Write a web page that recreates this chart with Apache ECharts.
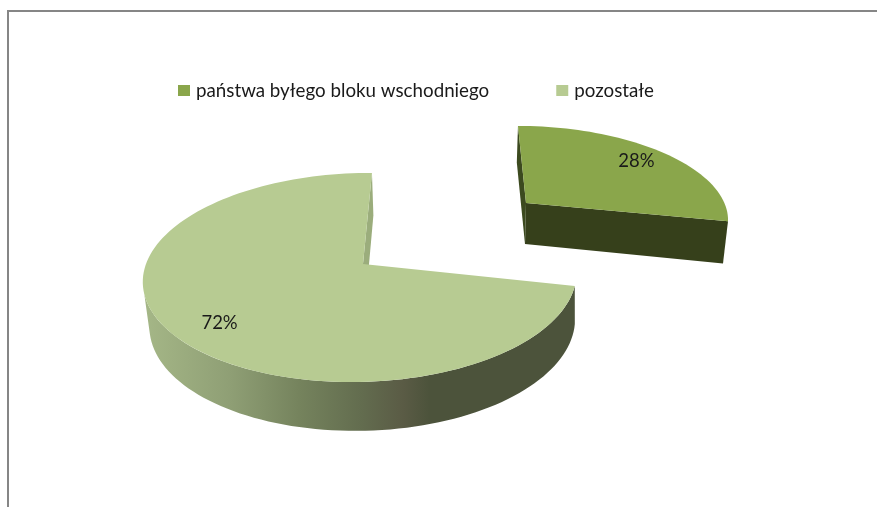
<!DOCTYPE html>
<html>
<head>
<meta charset="utf-8">
<style>
  html, body { margin: 0; padding: 0; background: #fff; }
  #chart { width: 877px; height: 507px; }
</style>
<script src="https://cdn.jsdelivr.net/npm/echarts@6/dist/echarts.min.js"></script>
</head>
<body>
<div id="chart"></div>
<script>
const categories = ["państwa byłego bloku wschodniego", "pozostałe"];
const shares = [28, 72];
const sliceColors = ["#8aa64b", "#b7cb92"];

var myChart = echarts.init(document.getElementById("chart"), null, { renderer: "canvas" });

// the pie is tilted, so each slice has a top and a bottom perspective mapping
const firstAngle = 2.8;
const geometry = [
  {
    top: { x: 526, y: 203, a: 197, b: 87, k: 0.129, skew: 18.7, shear: -3 },
    bottom: { x: 525, y: 244, a: 193, b: 92, k: 0.129, skew: 18.7, shear: -3 },
    labelR: 0.8,
    labelDy: -1,
  },
  {
    top: { x: 360, y: 264, a: 215, b: 102.8, k: 0.129, skew: -3, shear: -3, apexX: 363 },
    bottom: { x: 362.5, y: 309, a: 211, b: 106, k: 0.13, skew: -2, shear: -3, apexX: 365 },
    labelR: 0.76,
    labelDy: 7,
  },
];

function project(m, deg, r) {
  var t = (deg * Math.PI) / 180;
  var u = Math.sin(t) * r;
  var v = -Math.cos(t) * r;
  var w = 1 - m.k * v;
  return [m.x + (m.a * u + m.skew * v) / w, m.y + (m.b * v) / w + m.shear * u];
}

function apex(m) {
  return [m.apexX === undefined ? m.x : m.apexX, m.y];
}

function rim(m, from, to) {
  var pts = [];
  var n = Math.ceil(Math.abs(to - from) / 2);
  for (var i = 0; i <= n; i++) {
    pts.push(project(m, from + ((to - from) * i) / n, 1));
  }
  return pts;
}

const total = shares.reduce(function (s, v) { return s + v; }, 0);

const wallGradient = new echarts.graphic.LinearGradient(
  143, 0, 577, 0,
  [
    { offset: 0, color: "#a5b787" },
    { offset: 0.2, color: "#8f9f75" },
    { offset: 0.36, color: "#75835d" },
    { offset: 0.5, color: "#636d4f" },
    { offset: 0.6, color: "#5a5b45" },
    { offset: 0.66, color: "#4c533b" },
    { offset: 1, color: "#4c533b" },
  ],
  true
);

function renderSlice(idx) {
  return function (params, api) {
    var before = shares.slice(0, idx).reduce(function (s, v) { return s + v; }, 0);
    var value = api.value(0);
    var from = firstAngle + (before / total) * 360;
    var to = from + (value / total) * 360;
    var g = geometry[idx];
    var children = [];
    var topRim = rim(g.top, from, to);
    var labelAt = project(g.top, (from + to) / 2, g.labelR);

    if (idx === 0) {
      // only the two cut faces show on the pulled out slice
      children.push({
        type: "polygon",
        shape: { points: [project(g.top, from, 1), project(g.bottom, from, 1), apex(g.bottom), apex(g.top)] },
        style: { fill: "#3c4a1f" },
      });
      children.push({
        type: "polygon",
        shape: { points: [apex(g.top), apex(g.bottom), project(g.bottom, to, 1), project(g.top, to, 1)] },
        style: { fill: "#36401b" },
      });
    } else {
      children.push({
        type: "polygon",
        shape: { points: [project(g.top, to, 1), project(g.bottom, to, 1), apex(g.bottom), apex(g.top)] },
        style: { fill: "#9bad7c" },
      });
      // front wall, the straight join on the left makes the silhouette
      var wallTop = rim(g.top, from, 255);
      var wallBottom = rim(g.bottom, from - 4, 258).reverse();
      children.push({
        type: "polygon",
        shape: { points: wallTop.concat(wallBottom) },
        style: { fill: wallGradient },
      });
    }

    children.push({
      type: "polygon",
      shape: { points: [apex(g.top)].concat(topRim) },
      style: { fill: sliceColors[idx] },
    });
    children.push({
      type: "text",
      style: {
        x: labelAt[0],
        y: labelAt[1] + g.labelDy,
        text: Math.round((value / total) * 100) + "%",
        fill: "#1a1a1a",
        font: '18.5px Lato, "Noto Sans", sans-serif',
        align: "center",
        verticalAlign: "middle",
      },
    });
    return { type: "group", children: children };
  };
}

const option = {
  animation: false,
  backgroundColor: "#fff",
  legend: {
    left: 178,
    top: 81,
    padding: 0,
    itemWidth: 12,
    itemHeight: 11,
    itemGap: 67,
    icon: "rect",
    selectedMode: false,
    textStyle: { fontFamily: "Lato", fontSize: 18.75, color: "#1a1a1a", padding: [0, 0, 0, 1] },
    data: categories,
  },
  graphic: [
    {
      type: "polyline",
      silent: true,
      shape: { points: [[8, 507], [8, 11], [877, 11]] },
      style: { stroke: "#868686", lineWidth: 2, fill: null },
    },
  ],
  series: categories.map(function (name, i) {
    return {
      type: "custom",
      name: name,
      coordinateSystem: "none",
      silent: true,
      itemStyle: { color: sliceColors[i] },
      renderItem: renderSlice(i),
      data: [shares[i]],
    };
  }),
};

myChart.setOption(option);
</script>
</body>
</html>
